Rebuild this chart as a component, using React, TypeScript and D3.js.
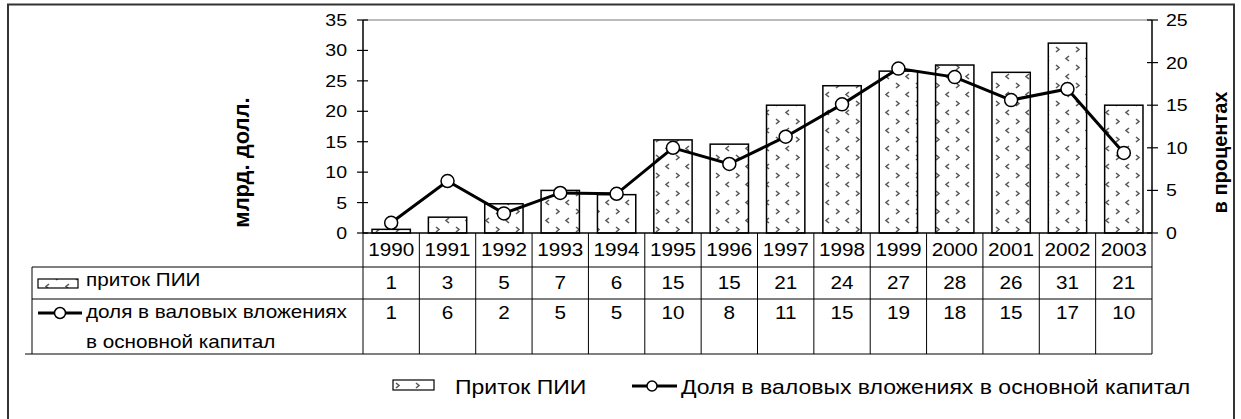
import { useMemo } from "react";
import * as d3 from "d3";

const years = ["1990", "1991", "1992", "1993", "1994", "1995", "1996", "1997", "1998", "1999", "2000", "2001", "2002", "2003"];
const fdiInflow = [0.6, 2.6, 4.8, 7.0, 6.3, 15.3, 14.6, 21.0, 24.2, 26.6, 27.6, 26.4, 31.2, 21.0];
const shareInGfcf = [1.2, 6.1, 2.3, 4.7, 4.6, 10.0, 8.1, 11.3, 15.1, 19.3, 18.3, 15.6, 16.9, 9.4];
const fdiTable = ["1", "3", "5", "7", "6", "15", "15", "21", "24", "27", "28", "26", "31", "21"];
const shareTable = ["1", "6", "2", "5", "5", "10", "8", "11", "15", "19", "18", "15", "17", "10"];
const leftTicks = [0, 5, 10, 15, 20, 25, 30, 35];
const rightTicks = [0, 5, 10, 15, 20, 25];

const W = 1241;
const H = 419;
const PLOT = { left: 363, right: 1152, top: 20, bottom: 233 };
const ROWS = [233, 267, 299, 354];
const TABLE_LEFT = 32;
const FONT = "'Liberation Sans', Arial, sans-serif";
const SX = 1.15;

// text stretched horizontally a little, like the source picture
function Txt({ x, y, size, anchor = "start", children }: any) {
  return (
    <text
      transform={`translate(${x},${y}) scale(${SX},1)`}
      fontSize={size}
      fontFamily={FONT}
      textAnchor={anchor}
      dominantBaseline="central"
      fill="#000"
    >
      {children}
    </text>
  );
}

export default function App() {
  const x = useMemo(
    () => d3.scaleBand<string>().domain(years).range([PLOT.left, PLOT.right]),
    []
  );
  const yL = useMemo(() => d3.scaleLinear().domain([0, 35]).range([PLOT.bottom, PLOT.top]), []);
  const yR = useMemo(() => d3.scaleLinear().domain([0, 25]).range([PLOT.bottom, PLOT.top]), []);
  const bw = x.bandwidth() * 0.68;
  const cx = (y: string) => x(y)! + x.bandwidth() / 2;

  const line = d3
    .line<number>()
    .x((_, i) => cx(years[i]))
    .y((d) => yR(d));

  const chevrons = (
    <g stroke="#5a5a5a" strokeWidth={1.6} fill="none">
      <path d="M5,2 L2,4.5 L5,7" />
      <path d="M12,11 L15,13.5 L12,16" />
    </g>
  );

  return (
    <svg width={W} height={H} style={{ position: "absolute", left: 0, top: 0, background: "#fff" }}>
      <defs>
        <pattern id="fdi" width={20} height={18} patternUnits="userSpaceOnUse" x={PLOT.left + 1}>
          <rect width={20} height={18} fill="#fff" />
          {chevrons}
        </pattern>
        <pattern id="fdiLeg" width={20} height={18} patternUnits="userSpaceOnUse" x={4} y={-6}>
          <rect width={20} height={18} fill="#fff" />
          {chevrons}
        </pattern>
      </defs>

      {/* outer frame */}
      <rect x={8} y={4.5} width={1226} height={420} fill="none" stroke="#333" strokeWidth={2} />

      {/* plot frame */}
      <line x1={PLOT.left} x2={PLOT.right} y1={PLOT.top} y2={PLOT.top} stroke="#777" strokeWidth={1} />

      {/* bars */}
      {fdiInflow.map((v, i) => (
        <rect
          key={years[i]}
          x={cx(years[i]) - bw / 2}
          y={yL(v)}
          width={bw}
          height={PLOT.bottom - yL(v)}
          fill="url(#fdi)"
          stroke="#000"
          strokeWidth={1.5}
        />
      ))}

      {/* axes */}
      <line x1={PLOT.left} x2={PLOT.left} y1={PLOT.top} y2={PLOT.bottom} stroke="#000" strokeWidth={1.5} />
      <line x1={PLOT.right} x2={PLOT.right} y1={PLOT.top} y2={PLOT.bottom} stroke="#000" strokeWidth={1.5} />
      {leftTicks.map((t) => (
        <g key={"l" + t}>
          <line x1={PLOT.left - 6} x2={PLOT.left + 5} y1={yL(t)} y2={yL(t)} stroke="#000" strokeWidth={1.2} />
          <Txt x={347} y={yL(t)} size={17} anchor="end">{t}</Txt>
        </g>
      ))}
      {rightTicks.map((t) => (
        <g key={"r" + t}>
          <line x1={PLOT.right - 5} x2={PLOT.right + 6} y1={yR(t)} y2={yR(t)} stroke="#000" strokeWidth={1.2} />
          <Txt x={1166} y={yR(t)} size={17}>{t}</Txt>
        </g>
      ))}

      {/* line series */}
      <path d={line(shareInGfcf) || ""} fill="none" stroke="#000" strokeWidth={3} />
      {shareInGfcf.map((v, i) => (
        <circle key={"c" + i} cx={cx(years[i])} cy={yR(v)} r={6.5} fill="#fff" stroke="#000" strokeWidth={1.5} />
      ))}

      {/* axis titles */}
      <text
        transform={`translate(241,${(95 + 230) / 2}) rotate(-90)`}
        fontSize={22}
        fontWeight="bold"
        fontFamily={FONT}
        textAnchor="middle"
        dominantBaseline="central"
      >
        млрд. долл.
      </text>
      <text
        transform={`translate(1220,${(90 + 215) / 2}) rotate(-90)`}
        fontSize={20}
        fontWeight="bold"
        fontFamily={FONT}
        textAnchor="middle"
        dominantBaseline="central"
      >
        в процентах
      </text>

      {/* data table */}
      <line x1={PLOT.left} x2={PLOT.right} y1={PLOT.bottom} y2={PLOT.bottom} stroke="#000" strokeWidth={1.5} />
      <line x1={TABLE_LEFT} x2={PLOT.right} y1={ROWS[1]} y2={ROWS[1]} stroke="#000" strokeWidth={1} />
      <line x1={TABLE_LEFT} x2={PLOT.right} y1={ROWS[2]} y2={ROWS[2]} stroke="#000" strokeWidth={1} />
      <line x1={25} x2={PLOT.right} y1={ROWS[3]} y2={ROWS[3]} stroke="#000" strokeWidth={1} />
      <line x1={TABLE_LEFT} x2={TABLE_LEFT} y1={ROWS[1]} y2={ROWS[3]} stroke="#000" strokeWidth={1} />
      {[...years.map((y) => x(y)!), PLOT.right].map((bx, i) => (
        <line key={"v" + i} x1={bx} x2={bx} y1={ROWS[0]} y2={ROWS[3]} stroke="#000" strokeWidth={1} />
      ))}
      {years.map((y, i) => (
        <g key={"t" + y}>
          <Txt x={cx(y)} y={250} size={18} anchor="middle">{y}</Txt>
          <Txt x={cx(y)} y={283} size={18} anchor="middle">{fdiTable[i]}</Txt>
          <Txt x={cx(y)} y={313} size={18} anchor="middle">{shareTable[i]}</Txt>
        </g>
      ))}
      <rect x={38} y={279} width={40} height={9} fill="url(#fdiLeg)" stroke="#000" strokeWidth={1.2} />
      <Txt x={86} y={280} size={18}>приток ПИИ</Txt>
      <line x1={38} x2={82} y1={313} y2={313} stroke="#000" strokeWidth={3} />
      <circle cx={60} cy={313} r={5.5} fill="#fff" stroke="#000" strokeWidth={1.5} />
      <Txt x={86} y={312} size={18}>доля в валовых вложениях</Txt>
      <Txt x={86} y={342} size={18}>в основной капитал</Txt>

      {/* bottom legend */}
      <rect x={393} y={380} width={41} height={10} fill="url(#fdiLeg)" stroke="#000" strokeWidth={1.2} />
      <Txt x={455} y={387} size={20}>Приток ПИИ</Txt>
      <line x1={632} x2={677} y1={386} y2={386} stroke="#000" strokeWidth={3} />
      <circle cx={652} cy={386} r={5} fill="#fff" stroke="#000" strokeWidth={1.5} />
      <Txt x={681} y={387} size={20}>Доля в валовых вложениях в основной капитал</Txt>
    </svg>
  );
}
